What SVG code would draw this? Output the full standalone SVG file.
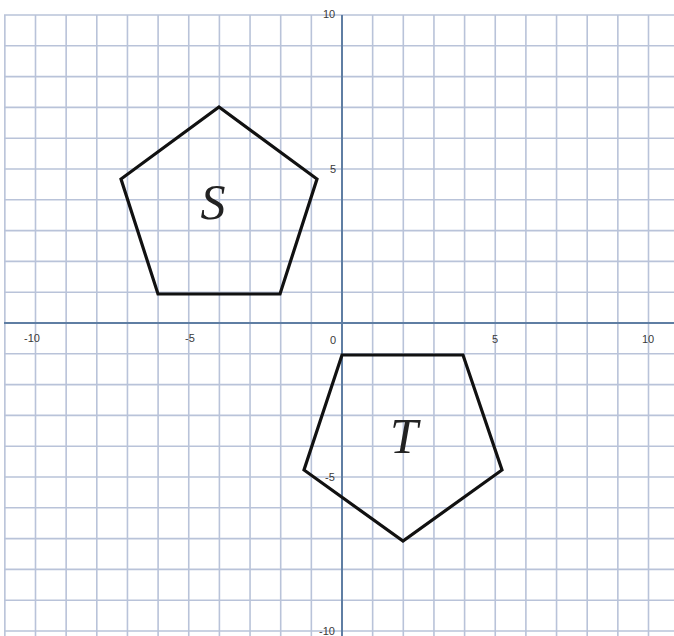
<svg xmlns="http://www.w3.org/2000/svg" width="674" height="636" viewBox="0 0 674 636">
<style>
.grid{stroke:#b9c3d9;stroke-width:1.6;fill:none}
.axis{stroke:#5f7ea3;stroke-width:2;fill:none}
.shape{stroke:#111;stroke-width:3.2;fill:none;stroke-linejoin:miter}
.tick{font-family:"Liberation Sans",Arial,sans-serif;font-size:11px;fill:#3a3a3a;text-anchor:middle}
.lbl{font-family:"Liberation Serif","Times New Roman",serif;font-style:italic;font-size:50px;fill:#222;text-anchor:middle}
</style>
<rect width="674" height="636" fill="#fff"/>
<g id="grid">
<path class="grid" d="M4.85 15V636M35.5 15V636M66.15 15V636M96.8 15V636M127.45 15V636M158.1 15V636M188.75 15V636M219.4 15V636M250.05 15V636M280.7 15V636M311.35 15V636M372.65 15V636M403.3 15V636M433.95 15V636M464.6 15V636M495.25 15V636M525.9 15V636M556.55 15V636M587.2 15V636M617.85 15V636M648.5 15V636"/>
<path class="grid" d="M4 15H674M4 45.8H674M4 76.6H674M4 107.4H674M4 138.2H674M4 169H674M4 199.8H674M4 230.6H674M4 261.4H674M4 292.2H674M4 353.8H674M4 384.6H674M4 415.4H674M4 446.2H674M4 477H674M4 507.8H674M4 538.6H674M4 569.4H674M4 600.2H674M4 631H674"/>
</g>
<g id="axes">
<path class="axis" d="M4 323H674M342 15V636"/>
</g>
<g id="ticks">
<text class="tick" x="329" y="18">10</text>
<text class="tick" x="333" y="173">5</text>
<text class="tick" x="330" y="481">-5</text>
<text class="tick" x="327" y="635">-10</text>
<text class="tick" x="32" y="342">-10</text>
<text class="tick" x="190" y="342">-5</text>
<text class="tick" x="333" y="344">0</text>
<text class="tick" x="495" y="343">5</text>
<text class="tick" x="648" y="343">10</text>
</g>
<g id="S">
<polygon class="shape" points="219,107 317,179 280,294 158,294 121,179"/>
<text class="lbl" x="213" y="219">S</text>
</g>
<g id="T">
<polygon class="shape" points="342,355 463,355 502,470 403,541 304,470"/>
<text class="lbl" x="404" y="453">T</text>
</g>
</svg>
